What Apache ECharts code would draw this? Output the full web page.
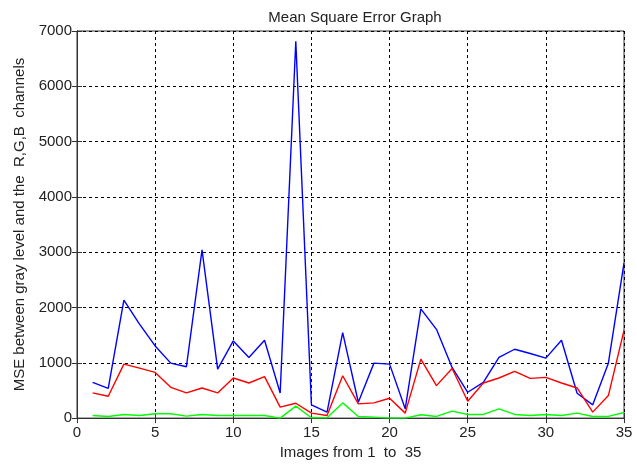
<!DOCTYPE html>
<html>
<head>
<meta charset="utf-8">
<script src="https://cdn.jsdelivr.net/npm/echarts@6/dist/echarts.min.js"></script>
<style>
  html, body { margin: 0; padding: 0; background: #fff; }
  #main { width: 637px; height: 465px; }
</style>
</head>
<body>
<div id="main"></div>
<script>
// image index 1..35
var images = [];
for (var i = 1; i <= 35; i++) images.push(i);

// MSE values
var mseBlue = [647, 539, 2132, 1700, 1305, 994, 928, 3042, 886, 1395,
  1096, 1407, 455, 6814, 240, 108, 1545, 287, 994, 976,
  168, 1976, 1605, 916, 467, 647, 1096, 1245, 1168, 1084,
  1407, 449, 240, 994, 2802];
var mseRed = [455, 395, 976, 904, 826, 557, 455, 545, 455, 725,
  635, 749, 198, 269, 90, 48, 766, 257, 275, 359,
  90, 1066, 587, 898, 305, 635, 725, 844, 719, 737,
  635, 545, 108, 407, 1587];
var mseGreen = [48, 30, 66, 48, 78, 78, 36, 66, 48, 48,
  48, 48, 0, 216, 6, 6, 275, 30, 18, 0,
  0, 60, 30, 126, 66, 66, 168, 66, 48, 66,
  48, 90, 30, 30, 102];

function pairs(vals) {
  return vals.map(function (v, i) { return [images[i], v]; });
}

var txt = { color: '#222', fontFamily: 'Liberation Sans, Arial, sans-serif', fontSize: 15 };
var dotted = { show: true, lineStyle: { color: '#000', type: [3, 3], width: 1 } };

var chart = echarts.init(document.getElementById('main'));
var option = {
  backgroundColor: '#fff',
  animation: false,
  title: {
    text: 'Mean Square Error Graph',
    left: 350, top: 5, textAlign: 'center',
    textStyle: { color: '#222', fontFamily: 'Liberation Sans, Arial, sans-serif', fontSize: 15, fontWeight: 'normal' }
  },
  grid: { left: 77, right: 13, top: 31, bottom: 44, show: true, borderColor: '#333', borderWidth: 1 },
  xAxis: [{
    type: 'value', min: 0, max: 35, interval: 5,
    name: 'Images from 1  to  35', nameLocation: 'middle', nameGap: 24,
    nameTextStyle: txt,
    axisLine: { show: true, lineStyle: { color: '#333' } },
    axisTick: { inside: true, length: 5, lineStyle: { color: '#333' } },
    axisLabel: Object.assign({ margin: 7 }, txt),
    splitLine: dotted
  }, {
    type: 'value', min: 0, max: 35, interval: 5, position: 'top',
    axisLine: { show: true, lineStyle: { color: '#333' } },
    axisTick: { inside: true, length: 5, lineStyle: { color: '#333' } },
    axisLabel: { show: false }, splitLine: { show: false }
  }],
  yAxis: [{
    type: 'value', min: 0, max: 7000, interval: 1000,
    name: 'MSE between gray level and the  R,G,B  channels', nameLocation: 'middle', nameGap: 50,
    nameTextStyle: txt,
    axisLine: { show: true, lineStyle: { color: '#333' } },
    axisTick: { inside: true, length: 5, lineStyle: { color: '#333' } },
    axisLabel: Object.assign({ margin: 5, formatter: function (v) { return String(v); } }, txt),
    splitLine: dotted
  }, {
    type: 'value', min: 0, max: 7000, interval: 1000, position: 'right',
    axisLine: { show: true, lineStyle: { color: '#333' } },
    axisTick: { inside: true, length: 5, lineStyle: { color: '#333' } },
    axisLabel: { show: false }, splitLine: { show: false }
  }],
  series: [
    { type: 'line', data: pairs(mseBlue), showSymbol: false, lineStyle: { color: '#0000ff', width: 1.4 }, itemStyle: { color: '#0000ff' } },
    { type: 'line', data: pairs(mseRed), showSymbol: false, lineStyle: { color: '#ff0000', width: 1.4 }, itemStyle: { color: '#ff0000' } },
    { type: 'line', data: pairs(mseGreen), showSymbol: false, lineStyle: { color: '#00ff00', width: 1.4 }, itemStyle: { color: '#00ff00' } }
  ]
};
chart.setOption(option);
</script>
</body>
</html>
